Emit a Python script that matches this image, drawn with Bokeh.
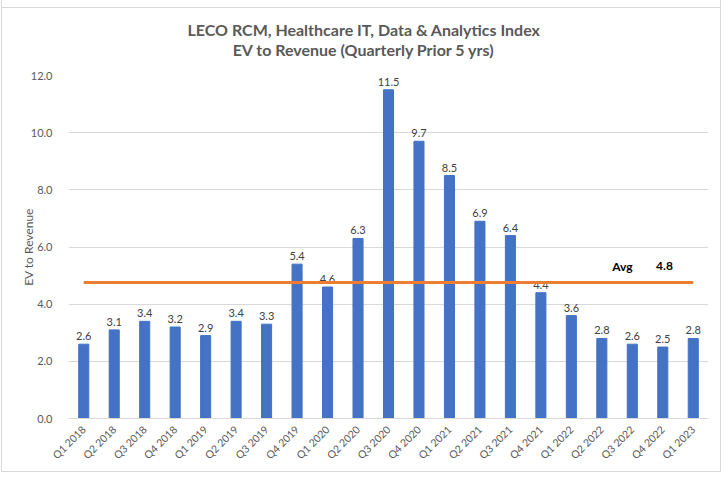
import math
from bokeh.plotting import figure
from bokeh.models import ColumnDataSource, FixedTicker
from bokeh.transform import dodge
from bokeh.core.properties import value
from bokeh.embed import file_html
from bokeh.resources import INLINE

quarters = ["Q1 2018", "Q2 2018", "Q3 2018", "Q4 2018",
            "Q1 2019", "Q2 2019", "Q3 2019", "Q4 2019",
            "Q1 2020", "Q2 2020", "Q3 2020", "Q4 2020",
            "Q1 2021", "Q2 2021", "Q3 2021", "Q4 2021",
            "Q1 2022", "Q2 2022", "Q3 2022", "Q4 2022", "Q1 2023"]
ev_revenue = [2.6, 3.1, 3.4, 3.2, 2.9, 3.4, 3.3, 5.4, 4.6, 6.3, 11.5,
              9.7, 8.5, 6.9, 6.4, 4.4, 3.6, 2.8, 2.6, 2.5, 2.8]
avg_value = sum(ev_revenue) / len(ev_revenue)
avg_label = "4.8"
y_ticks = [0, 2, 4, 6, 8, 10, 12]

FONT = "Lato"
GREY = "#595959"

src = ColumnDataSource(dict(q=quarters, v=ev_revenue,
                            lab=[f"{x:.1f}" for x in ev_revenue]))

p = figure(x_range=quarters, y_range=(0, 12), width=720, height=472,
           output_backend="svg", toolbar_location=None,
           min_border_left=66, min_border_right=14, min_border_bottom=54,
           min_border_top=75)
p.styles = {"border": "1px solid #d9d9d9", "border-top": "none",
            "margin-left": "1px",
            "background": "linear-gradient(#d9d9d9, #d9d9d9) 0 7px / 100% 1px no-repeat"}
p.border_fill_color = None
p.background_fill_color = None
p.outline_line_color = None

p.title.text = "LECO RCM, Healthcare IT, Data & Analytics Index\nEV to Revenue (Quarterly Prior 5 yrs)"
p.title.align = "left"
p.title.offset = 119
try:
    p.title.text_align = "center"
except Exception:
    pass
p.title.text_font = FONT
p.title.text_font_size = "16px"
p.title.text_color = GREY
p.title.text_font_style = "bold"
p.title.text_line_height = 1.09
p.title.standoff = 32

p.vbar(x="q", top="v", width=0.33, source=src, color="#4472C4")
p.text(x="q", y="v", text="lab", source=src, text_align="center",
       text_baseline="bottom", y_offset=-4, text_font=value(FONT),
       text_font_size="11px", text_color="#404040")

avg_src = ColumnDataSource(dict(x=[quarters[0], quarters[-1]], y=[avg_value, avg_value]))
p.line(x="x", y="y", source=avg_src, line_color="#ED7D31", line_width=3)

lab_src = ColumnDataSource(dict(x=[quarters[18]], y=[5.32], t=["Avg"]))
lab_src2 = ColumnDataSource(dict(x=[quarters[19]], y=[5.32], t=[avg_label]))
p.text(x=dodge("x", -0.66, range=p.x_range), y="y", text="t", source=lab_src,
       text_baseline="middle", text_align="left", text_font=value(FONT),
       text_font_size="12px", text_font_style="bold", text_color="black")
p.text(x=dodge("x", -0.22, range=p.x_range), y="y", text="t", source=lab_src2,
       text_baseline="middle", text_align="left", text_font=value(FONT),
       text_font_size="12px", text_font_style="bold", text_color="black")

p.xgrid.grid_line_color = None
p.ygrid.grid_line_color = "#d9d9d9"
p.yaxis.ticker = FixedTicker(ticks=y_ticks)
p.yaxis.major_label_overrides = {t: f"{t:.1f}" for t in y_ticks}
p.yaxis.axis_line_color = None
p.yaxis.major_tick_line_color = None
p.yaxis.minor_tick_line_color = None
p.yaxis.axis_label = "EV to Revenue"
p.yaxis.axis_label_text_font = FONT
p.yaxis.axis_label_text_font_style = "normal"
p.yaxis.axis_label_text_font_size = "12px"
p.yaxis.axis_label_text_color = GREY
p.yaxis.axis_label_standoff = -8
p.yaxis.major_label_text_font = FONT
p.yaxis.major_label_text_font_size = "11px"
p.yaxis.major_label_text_color = GREY
p.yaxis.major_label_standoff = 10

p.xaxis.axis_line_color = "#d9d9d9"
p.xaxis.major_tick_line_color = None
p.xaxis.minor_tick_line_color = None
p.xaxis.major_label_orientation = math.pi / 4
p.xaxis.major_label_text_font = FONT
p.xaxis.major_label_text_font_size = "10.5px"
p.xaxis.major_label_text_color = GREY
p.xaxis.major_label_standoff = 3

open("out.html", "w").write(file_html(p, INLINE))
